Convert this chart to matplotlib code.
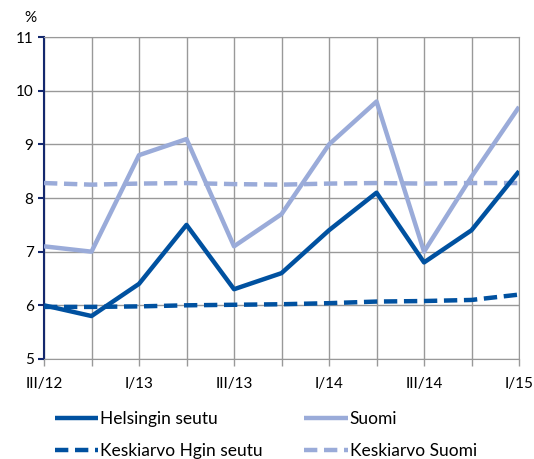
import matplotlib
matplotlib.use('Agg')
import matplotlib.pyplot as plt

# quarters
quarters = ['III/12', 'IV/12', 'I/13', 'II/13', 'III/13', 'IV/13',
            'I/14', 'II/14', 'III/14', 'IV/14', 'I/15']
tick_labels = ['III/12', '', 'I/13', '', 'III/13', '',
               'I/14', '', 'III/14', '', 'I/15']

# series values, %
helsinki = [6.0, 5.8, 6.4, 7.5, 6.3, 6.6, 7.4, 8.1, 6.8, 7.4, 8.5]
suomi = [7.1, 7.0, 8.8, 9.1, 7.1, 7.7, 9.0, 9.8, 7.0, 8.4, 9.7]
avg_helsinki = [5.97, 5.97, 5.98, 6.0, 6.01, 6.02, 6.04, 6.07, 6.08, 6.1, 6.2]
avg_suomi = [8.28, 8.25, 8.27, 8.28, 8.26, 8.25, 8.27, 8.28, 8.27, 8.28, 8.28]

dark = '#0051a0'
light = '#9aabd9'

plt.rcParams['font.family'] = ['Lato', 'DejaVu Sans']

fig = plt.figure(figsize=(5.34, 4.59), dpi=100)
ax = fig.add_axes([0.0824, 0.218, 0.8896, 0.701])

x = range(len(quarters))
l1, = ax.plot(x, helsinki, color=dark, lw=3.2, label='Helsingin seutu', solid_capstyle='butt', zorder=4)
l2, = ax.plot(x, suomi, color=light, lw=3.2, label='Suomi', solid_capstyle='butt', zorder=3)
l3, = ax.plot(x, avg_helsinki, color=dark, lw=3.2, ls=(0, (3.0, 1.5)), label='Keskiarvo Hgin seutu', zorder=4)
l4, = ax.plot(x, avg_suomi, color=light, lw=3.2, ls=(0, (3.0, 1.5)), label='Keskiarvo Suomi', zorder=3)

ax.set_xlim(0, len(quarters) - 1)
ax.set_ylim(5, 11)
ax.set_yticks(range(5, 12))
ax.set_xticks(list(x))
ax.set_xticklabels(tick_labels)
ax.grid(True, color='#999999', lw=1.0)
ax.set_axisbelow(True)

for s in ['top', 'right', 'bottom']:
    ax.spines[s].set_color('#999999')
ax.spines['left'].set_color('#14286e')
ax.spines['left'].set_linewidth(1.5)
ax.tick_params(axis='y', colors='#14286e', labelcolor='black', length=4, width=1.5, labelsize=11)
ax.tick_params(axis='x', colors='#999999', labelcolor='black', length=5, width=1, labelsize=11, pad=8)

fig.text(0.045, 0.96, '%', fontsize=11, ha='left', va='center')

# legend filled row by row: reorder for matplotlib's column-wise fill
fig.legend([l1, l3, l2, l4], [l1.get_label(), l3.get_label(), l2.get_label(), l4.get_label()],
           loc='upper left', bbox_to_anchor=(0.103, 0.105), ncol=2, frameon=False,
           fontsize=12.5, handlelength=2.5, handletextpad=0.1, columnspacing=2.4,
           labelspacing=0.95, borderaxespad=0, borderpad=0)

fig.savefig('out.png', dpi=100)
